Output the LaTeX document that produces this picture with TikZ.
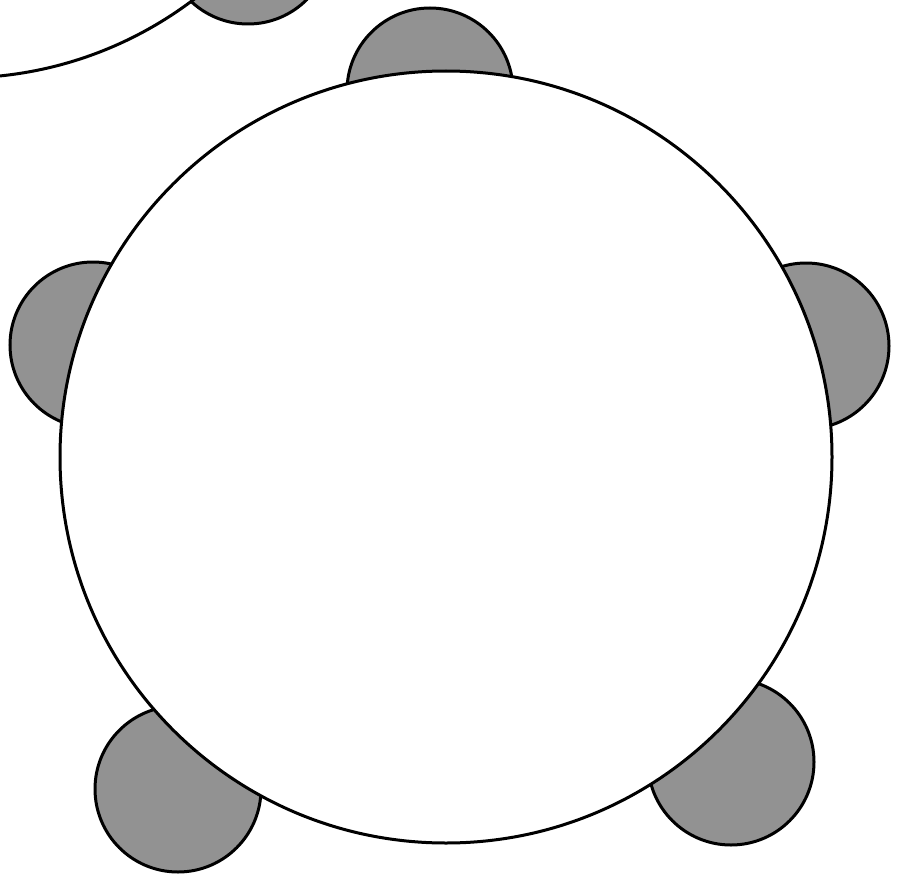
\documentclass[tikz,border=0pt]{standalone}
\usepackage{tikz}
\definecolor{chairgray}{RGB}{146,146,146}

\begin{document}
\begin{tikzpicture}[x=1pt, y=-1pt, line width=3pt,
  chair/.style={draw=black, fill=chairgray},
  table/.style={draw=black, fill=white}]

% Frame (pixel coordinates, y downwards)
\useasboundingbox (0,0) rectangle (905,875);
\clip (0,0) rectangle (905,875);

% Centres of the tables
\coordinate (T) at (446,457);
\coordinate (S) at (-40,-309);

% Chairs
\coordinate (C1) at (430,91);
\coordinate (C2) at (93,345);
\coordinate (C3) at (806,346);
\coordinate (C4) at (178,789);
\coordinate (C5) at (731,762);
\coordinate (C6) at (248,-59);
\foreach \c in {C1,C2,C3,C4,C5,C6}
  \draw[chair] (\c) circle (83);

% Tables on top
\draw[table] (S) circle (387);
\draw[table] (T) circle (386);

\end{tikzpicture}
\end{document}
